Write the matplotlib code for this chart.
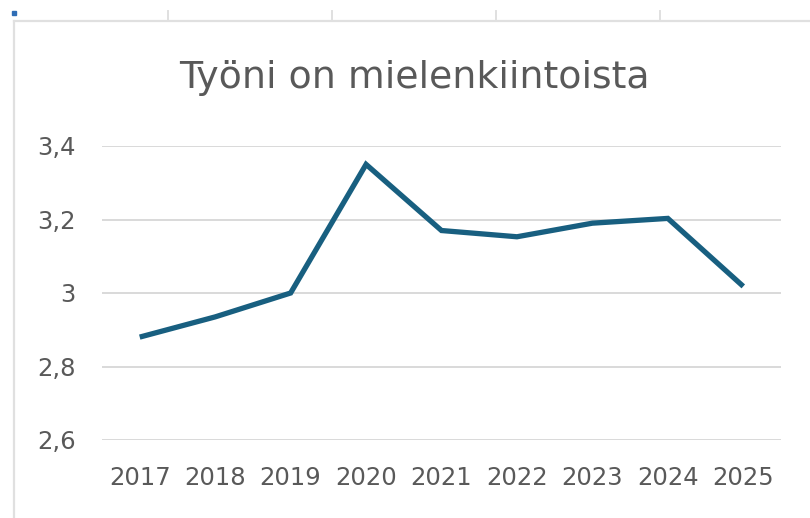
import matplotlib
matplotlib.use("Agg")
import matplotlib.pyplot as plt
from matplotlib.lines import Line2D

years = ["2017", "2018", "2019", "2020", "2021", "2022", "2023", "2024", "2025"]
values = [2.88, 2.935, 3.0, 3.35, 3.17, 3.153, 3.19, 3.203, 3.018]
yticks = [2.6, 2.8, 3.0, 3.2, 3.4]
ytick_labels = ["2,6", "2,8", "3", "3,2", "3,4"]
title = "Työni on mielenkiintoista"

W, H = 810, 518
fig = plt.figure(figsize=(W / 100, H / 100), dpi=100)
fig.patch.set_facecolor("white")

def fx(px):
    return px / W

def fy(py):
    return 1 - py / H

ax = fig.add_axes([fx(102), fy(440), fx(781) - fx(102), fy(146) - fy(440)])
x = list(range(len(years)))
ax.plot(x, values, color="#185f80", linewidth=3.8, solid_joinstyle="miter", solid_capstyle="butt", zorder=3)
ax.set_xlim(-0.5, len(years) - 0.5)
ax.set_ylim(2.6, 3.4)
ax.set_yticks(yticks)
ax.set_yticklabels(ytick_labels)
ax.set_xticks(x)
ax.set_xticklabels(years)
ax.grid(axis="y", color="#d9d9d9", linewidth=1.4, zorder=0)
ax.set_axisbelow(True)
for s in ax.spines.values():
    s.set_visible(False)
ax.tick_params(axis="both", length=0, labelsize=17.5, labelcolor="#595959")
ax.tick_params(axis="y", pad=19)
ax.tick_params(axis="x", pad=19)
for lab in ax.get_xticklabels() + ax.get_yticklabels():
    lab.set_family(["DejaVu Sans"])

fig.text(fx(414), fy(88), title, ha="center", va="baseline", fontsize=27.3, color="#595959", family=["DejaVu Sans"])

# Spreadsheet frame decorations
fig.add_artist(Line2D([fx(14), fx(810)], [fy(21), fy(21)], color="#e0e0e0", linewidth=1.6))
fig.add_artist(Line2D([fx(14), fx(14)], [fy(21), fy(518)], color="#e0e0e0", linewidth=1.6))
for px in [168, 332, 496, 660]:
    fig.add_artist(Line2D([fx(px), fx(px)], [fy(11), fy(21)], color="#e0e0e0", linewidth=1.4))
fig.add_artist(Line2D([fx(14)], [fy(13)], marker="s", markersize=2.5, color="#2f6db5", linewidth=0))

fig.savefig("out.png", dpi=100)
